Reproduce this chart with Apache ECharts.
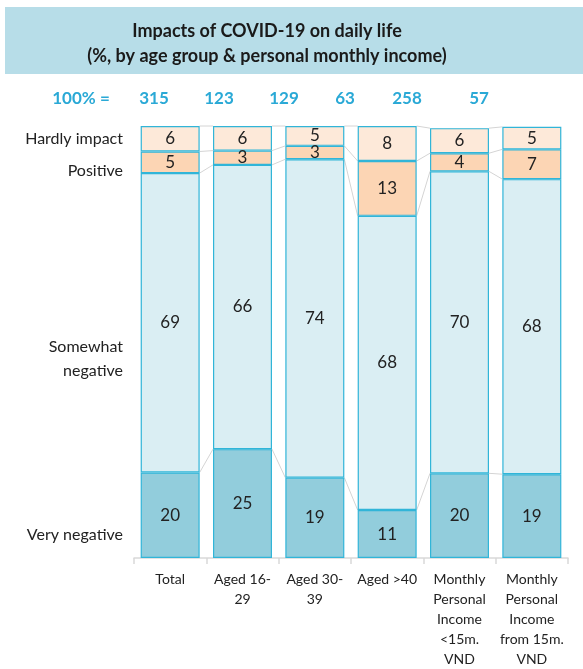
<!DOCTYPE html>
<html>
<head>
<meta charset="utf-8">
<script src="https://cdn.jsdelivr.net/npm/echarts@6/dist/echarts.min.js"></script>
<style>
  html, body { margin: 0; padding: 0; background: #fff; }
  #chartBox { width: 583px; height: 669px; }
</style>
</head>
<body>
<div id="chartBox"></div>
<script>
// categories and base sizes (100% = n)
var categories = ['Total', 'Aged 16-\n29', 'Aged 30-\n39', 'Aged >40',
  'Monthly\nPersonal\nIncome\n<15m.\nVND', 'Monthly\nPersonal\nIncome\nfrom 15m.\nVND'];
var baseCounts = [315, 123, 129, 63, 258, 57];

// shares in % (labels show rounded values)
var veryNegative = [19.8, 25.2, 18.6, 11.1, 19.6, 19.4];
var somewhatNegative = [69.3, 65.8, 73.7, 68.1, 69.9, 68.3];
var positive = [5.0, 3.3, 3.1, 12.7, 4.2, 6.9];
var hardlyImpact = [5.9, 5.7, 4.6, 8.1, 5.8, 5.2];

var seriesNames = ['Very negative', 'Somewhat negative', 'Positive', 'Hardly impact'];
var seriesData = [veryNegative, somewhatNegative, positive, hardlyImpact];
var seriesColors = ['#92cddc', '#daeef3', '#fcd5b4', '#fde9d9'];

var FONT = 'Lato, "Open Sans", sans-serif';
var BAR_W = 59;

var chart = echarts.init(document.getElementById('chartBox'));

// cumulative tops of each segment, per bar
function levels(i) {
  var out = [], sum = 0;
  for (var s = 0; s < seriesData.length; s++) {
    sum += seriesData[s][i];
    out.push(sum);
  }
  return out;
}

var series = seriesData.map(function (arr, s) {
  return {
    name: seriesNames[s],
    type: 'bar',
    stack: 'all',
    barWidth: BAR_W,
    data: arr,
    itemStyle: {
      color: seriesColors[s],
      borderColor: '#31b5d8',
      borderWidth: 1.2
    },
    label: {
      show: true,
      position: 'inside',
      color: '#222',
      fontFamily: FONT,
      fontSize: 17,
      formatter: function (p) { return Math.round(p.value); }
    },
    z: 3
  };
});

// thin grey connector lines between neighbouring bars
series.push({
  type: 'custom',
  silent: true,
  encode: { x: 0, y: 1 },
  data: categories.slice(0, -1).map(function (c, i) { return [i, 0]; }),
  renderItem: function (params, api) {
    var i = api.value(0);
    var a = levels(i), b = levels(i + 1);
    var kids = [];
    for (var k = 0; k < a.length; k++) {
      var p1 = api.coord([i, a[k]]);
      var p2 = api.coord([i + 1, b[k]]);
      kids.push({
        type: 'line',
        shape: { x1: p1[0] + BAR_W / 2, y1: p1[1], x2: p2[0] - BAR_W / 2, y2: p2[1] },
        style: { stroke: '#d4d4d4', lineWidth: 1 }
      });
    }
    return { type: 'group', children: kids };
  },
  z: 1
});

var countX = [154, 219, 284, 345, 407, 479];
var graphics = [
  { type: 'rect', shape: { x: 5, y: 7, width: 590, height: 67 }, style: { fill: '#b7dde8' }, z: 0 },
  { type: 'text', x: 267, y: 31, style: { text: 'Impacts of COVID-19 on daily life', fill: '#1a1a1a',
    font: 'bold 18px ' + FONT, textAlign: 'center', textVerticalAlign: 'middle' } },
  { type: 'text', x: 267, y: 56, style: { text: '(%, by age group & personal monthly income)', fill: '#1a1a1a',
    font: 'bold 18px ' + FONT, textAlign: 'center', textVerticalAlign: 'middle' } },
  { type: 'text', x: 81, y: 99, style: { text: '100% =', fill: '#2aa9d6',
    font: 'bold 17px ' + FONT, textAlign: 'center', textVerticalAlign: 'middle' } }
];
baseCounts.forEach(function (n, i) {
  graphics.push({ type: 'text', x: countX[i], y: 99, style: { text: String(n), fill: '#2aa9d6',
    font: 'bold 17px ' + FONT, textAlign: 'center', textVerticalAlign: 'middle' } });
});
// row names on the left
var leftLabels = [
  { t: 'Hardly impact', y: 139 },
  { t: 'Positive', y: 171 },
  { t: 'Somewhat\nnegative', y: 359 },
  { t: 'Very negative', y: 535 }
];
leftLabels.forEach(function (l) {
  graphics.push({ type: 'text', x: 123, y: l.y, style: { text: l.t, fill: '#222',
    font: '16px ' + FONT, textAlign: 'right', textVerticalAlign: 'middle', lineHeight: 24 } });
});

var option = {
  animation: false,
  grid: { left: 134, top: 126, width: 434, height: 434 },
  xAxis: {
    type: 'category',
    data: categories,
    axisLine: { lineStyle: { color: '#d9d9d9', width: 1.5 } },
    axisTick: { show: true, length: 6, lineStyle: { color: '#d9d9d9', width: 1.5 } },
    axisLabel: { interval: 0, color: '#222', fontFamily: FONT, fontSize: 14, lineHeight: 20, margin: 11 }
  },
  yAxis: { type: 'value', min: 0, max: 100, show: false },
  graphic: graphics,
  series: series
};
chart.setOption(option);
</script>
</body>
</html>
